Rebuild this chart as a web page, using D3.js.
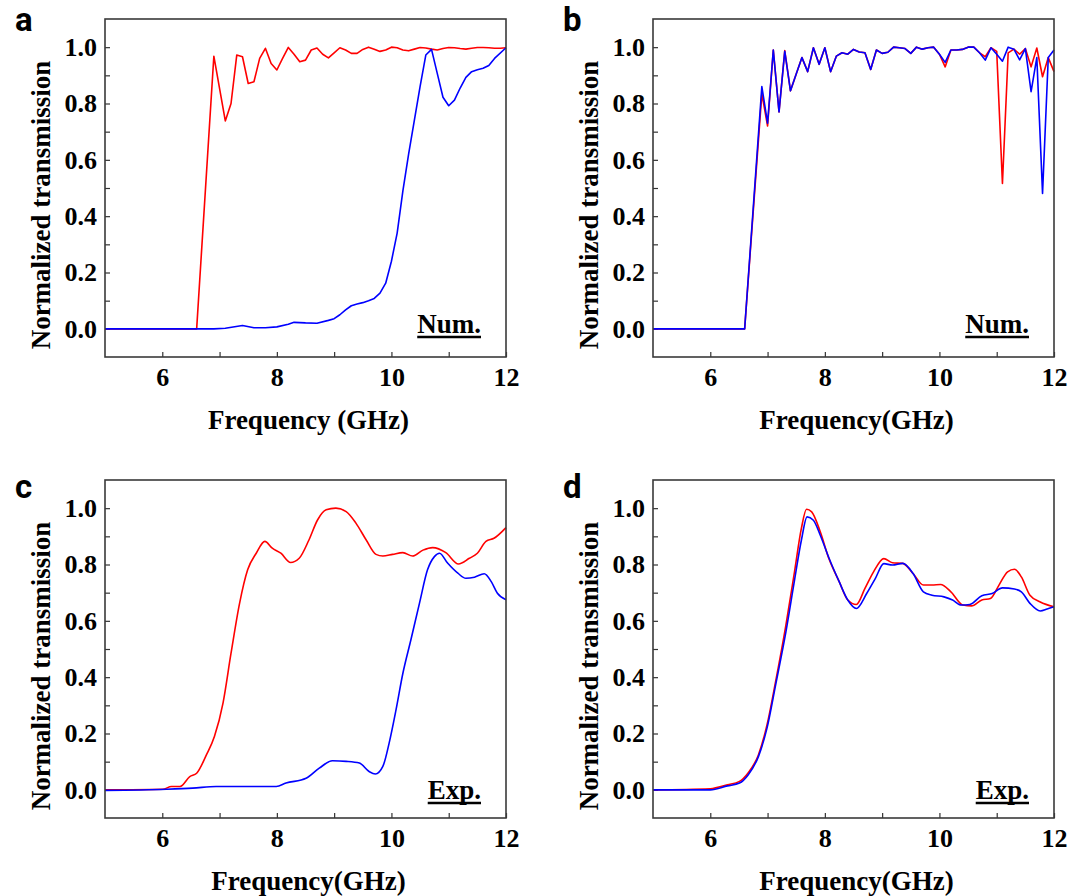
<!DOCTYPE html>
<html>
<head>
<meta charset="utf-8">
<script src="https://cdn.jsdelivr.net/npm/d3@7"></script>
<style>
  body { margin: 0; background: #fff; }
  svg { display: block; }
</style>
</head>
<body>
<svg id="fig" width="1084" height="896"></svg>
<script>
// ---- data ----
// panel a (numerical)
var aRedFreq  = [5.0, 6.6, 6.9, 7.1, 7.2, 7.3, 7.4, 7.5, 7.6, 7.7, 7.8, 7.9, 8.0, 8.1, 8.2, 8.3, 8.4, 8.5, 8.6, 8.7, 8.8, 8.9, 9.0, 9.1, 9.2, 9.3, 9.4, 9.5, 9.6, 9.7, 9.8, 9.9, 10.0, 10.1, 10.2, 10.3, 10.4, 10.5, 10.6, 10.7, 10.8, 10.9, 11.0, 11.1, 11.2, 11.3, 11.4, 11.5, 11.6, 11.7, 11.8, 11.9, 12.0];
var aRedTrans = [0, 0, 0.968, 0.738, 0.80, 0.972, 0.966, 0.871, 0.877, 0.96, 0.996, 0.942, 0.919, 0.96, 0.999, 0.975, 0.948, 0.954, 0.99, 0.997, 0.975, 0.962, 0.98, 0.998, 0.99, 0.978, 0.978, 0.992, 1.0, 0.993, 0.985, 0.99, 1.0, 0.998, 0.99, 0.987, 0.993, 0.999, 0.997, 0.993, 0.99, 0.995, 0.999, 0.998, 0.995, 0.993, 0.996, 0.999, 0.999, 0.998, 0.996, 0.996, 0.998];
var aBlueFreq  = [5.0, 6.9, 7.1, 7.4, 7.6, 7.8, 8.0, 8.2, 8.3, 8.5, 8.7, 8.9, 9.0, 9.1, 9.2, 9.3, 9.4, 9.5, 9.6, 9.7, 9.8, 9.9, 10.0, 10.1, 10.2, 10.3, 10.4, 10.5, 10.6, 10.7, 10.8, 10.9, 11.0, 11.1, 11.2, 11.3, 11.4, 11.5, 11.6, 11.7, 11.8, 12.0];
var aBlueTrans = [0, 0, 0.002, 0.012, 0.004, 0.004, 0.007, 0.016, 0.023, 0.021, 0.02, 0.03, 0.036, 0.05, 0.067, 0.082, 0.088, 0.093, 0.1, 0.108, 0.127, 0.162, 0.24, 0.34, 0.49, 0.62, 0.74, 0.86, 0.972, 0.992, 0.907, 0.822, 0.792, 0.812, 0.855, 0.893, 0.913, 0.92, 0.925, 0.935, 0.96, 0.998];

// panel b (numerical), both curves on one grid
var bFreq = [5.0, 6.6, 6.9, 7.0, 7.1, 7.2, 7.3, 7.4, 7.5, 7.6, 7.7, 7.8, 7.9, 8.0, 8.1, 8.2, 8.3, 8.4, 8.5, 8.6, 8.7, 8.8, 8.9, 9.0, 9.1, 9.2, 9.3, 9.4, 9.5, 9.6, 9.7, 9.8, 9.9, 10.0, 10.1, 10.2, 10.3, 10.4, 10.5, 10.6, 10.7, 10.8, 10.9, 11.0, 11.1, 11.2, 11.3, 11.4, 11.5, 11.6, 11.7, 11.8, 11.9, 12.0];
var bRedTrans  = [0, 0, 0.835, 0.72, 0.99, 0.77, 0.988, 0.845, 0.905, 0.963, 0.913, 0.998, 0.939, 0.998, 0.913, 0.968, 0.98, 0.975, 0.992, 0.983, 0.98, 0.921, 0.99, 0.978, 0.982, 1.0, 0.998, 0.995, 0.978, 1.0, 0.993, 0.998, 1.0, 0.975, 0.93, 0.99, 0.99, 0.992, 1.0, 1.0, 0.98, 0.966, 0.998, 0.985, 0.516, 0.98, 0.993, 0.975, 0.995, 0.93, 0.997, 0.895, 0.963, 0.913];
var bBlueTrans = [0, 0, 0.86, 0.73, 0.99, 0.77, 0.985, 0.845, 0.905, 0.963, 0.913, 0.998, 0.939, 0.998, 0.913, 0.968, 0.98, 0.975, 0.992, 0.983, 0.98, 0.921, 0.99, 0.978, 0.982, 1.0, 0.998, 0.995, 0.978, 1.0, 0.993, 0.998, 1.0, 0.975, 0.946, 0.99, 0.99, 0.992, 1.0, 1.0, 0.98, 0.954, 0.998, 0.975, 0.95, 1.0, 0.993, 0.955, 0.995, 0.842, 0.963, 0.481, 0.963, 0.99];

// panel c (experiment)
var cRedFreq  = [5.0, 6.01, 6.16, 6.31, 6.48, 6.6, 6.77, 6.91, 7.06, 7.2, 7.35, 7.49, 7.64, 7.79, 7.92, 8.07, 8.24, 8.39, 8.56, 8.71, 8.86, 9.03, 9.21, 9.38, 9.56, 9.73, 9.85, 10.02, 10.2, 10.37, 10.55, 10.72, 10.95, 11.17, 11.36, 11.5, 11.65, 11.79, 12.0];
var cRedTrans = [0, 0.002, 0.012, 0.012, 0.047, 0.059, 0.124, 0.189, 0.308, 0.485, 0.663, 0.781, 0.84, 0.882, 0.858, 0.84, 0.807, 0.822, 0.887, 0.958, 0.994, 1.0, 0.988, 0.947, 0.887, 0.836, 0.83, 0.836, 0.842, 0.83, 0.851, 0.86, 0.842, 0.802, 0.822, 0.84, 0.882, 0.893, 0.931];
var cBlueFreq  = [5.0, 6.07, 6.53, 6.94, 7.35, 7.7, 7.99, 8.16, 8.51, 8.74, 8.97, 9.21, 9.44, 9.61, 9.72, 9.85, 9.96, 10.08, 10.2, 10.34, 10.49, 10.63, 10.75, 10.84, 10.98, 11.16, 11.3, 11.45, 11.62, 11.74, 11.85, 12.0];
var cBlueTrans = [-0.002, 0.002, 0.006, 0.012, 0.012, 0.012, 0.012, 0.024, 0.041, 0.077, 0.103, 0.101, 0.095, 0.065, 0.056, 0.083, 0.166, 0.284, 0.414, 0.533, 0.663, 0.781, 0.828, 0.84, 0.805, 0.769, 0.751, 0.755, 0.767, 0.74, 0.698, 0.675];

// panel d (experiment)
var dRedFreq  = [5.0, 6.0, 6.3, 6.51, 6.66, 6.84, 6.99, 7.14, 7.32, 7.47, 7.59, 7.68, 7.77, 7.92, 8.07, 8.25, 8.4, 8.55, 8.7, 8.85, 9.03, 9.18, 9.36, 9.54, 9.72, 9.87, 10.02, 10.2, 10.41, 10.56, 10.74, 10.89, 11.04, 11.19, 11.31, 11.43, 11.58, 11.76, 12.0];
var dRedTrans = [0, 0.004, 0.018, 0.03, 0.06, 0.124, 0.23, 0.384, 0.585, 0.774, 0.928, 0.996, 0.987, 0.916, 0.821, 0.739, 0.674, 0.658, 0.715, 0.774, 0.821, 0.806, 0.804, 0.768, 0.727, 0.727, 0.729, 0.703, 0.656, 0.653, 0.674, 0.679, 0.727, 0.774, 0.783, 0.756, 0.691, 0.667, 0.65];
var dBlueFreq  = [5.0, 6.0, 6.3, 6.51, 6.66, 6.84, 6.99, 7.14, 7.32, 7.47, 7.59, 7.69, 7.8, 7.92, 8.07, 8.25, 8.4, 8.55, 8.73, 8.88, 9.03, 9.18, 9.36, 9.54, 9.72, 9.87, 10.08, 10.23, 10.38, 10.53, 10.74, 10.92, 11.1, 11.31, 11.43, 11.58, 11.76, 11.88, 12.0];
var dBlueTrans = [0, 0, 0.014, 0.024, 0.053, 0.118, 0.219, 0.372, 0.561, 0.744, 0.886, 0.969, 0.957, 0.904, 0.824, 0.739, 0.674, 0.644, 0.697, 0.75, 0.803, 0.798, 0.804, 0.768, 0.703, 0.691, 0.685, 0.674, 0.656, 0.658, 0.689, 0.697, 0.717, 0.713, 0.703, 0.662, 0.635, 0.642, 0.65];

// axis ticks
var xMajorTicks = [6, 8, 10, 12];
var xMinorTicks = [7, 9, 11];
var yMajorTicks = [0, 0.2, 0.4, 0.6, 0.8, 1.0];
var yMinorTicks = [0.1, 0.3, 0.5, 0.7, 0.9];

var panelLetters = ["a", "b", "c", "d"];
var xTitles = ["Frequency (GHz)", "Frequency(GHz)", "Frequency(GHz)", "Frequency(GHz)"];
var yTitle = "Normalized transmission";
var notes = ["Num.", "Num.", "Exp.", "Exp."];

function zip(f, t) { return f.map(function(d, i) { return {f: d, t: t[i]}; }); }

var panels = [
  {left: 105, top: 19,  red: zip(aRedFreq, aRedTrans), blue: zip(aBlueFreq, aBlueTrans), smooth: false},
  {left: 653, top: 19,  red: zip(bFreq, bRedTrans),    blue: zip(bFreq, bBlueTrans),    smooth: false},
  {left: 105, top: 480, red: zip(cRedFreq, cRedTrans), blue: zip(cBlueFreq, cBlueTrans), smooth: true},
  {left: 653, top: 480, red: zip(dRedFreq, dRedTrans), blue: zip(dBlueFreq, dBlueTrans), smooth: true}
];

var svg = d3.select("#fig"),
    width = 401,
    height = 338,
    serif = "'Liberation Serif', 'Times New Roman', serif";

var xScale = d3.scaleLinear().domain([5, 12]).range([0, width]);
var yScale = d3.scaleLinear().domain([-0.1, 1.1]).range([height, 0]);

panels.forEach(function(p, i) {
    var g = svg.append("g")
               .attr("transform", "translate(" + p.left + "," + p.top + ")");

    // panel letter
    svg.append("text")
       .attr("x", p.left - 90)
       .attr("y", p.top + (i < 2 ? 12 : 18))
       .attr("font-family", "Roboto, sans-serif")
       .attr("font-weight", 700)
       .attr("font-size", "33px")
       .text(panelLetters[i]);

    // minor ticks (inward, no labels)
    g.append("g")
     .attr("transform", "translate(0," + height + ")")
     .call(d3.axisBottom(xScale).tickValues(xMinorTicks).tickSize(-5).tickFormat(""));
    g.append("g")
     .call(d3.axisLeft(yScale).tickValues(yMinorTicks).tickSize(-5).tickFormat(""));

    // major ticks with labels
    g.append("g")
     .attr("transform", "translate(0," + height + ")")
     .call(d3.axisBottom(xScale).tickValues(xMajorTicks).tickSize(-5).tickPadding(11).tickFormat(d3.format("d")));
    g.append("g")
     .call(d3.axisLeft(yScale).tickValues(yMajorTicks).tickSize(-5).tickPadding(8).tickFormat(d3.format(".1f")));

    g.selectAll(".domain").remove();
    g.selectAll(".tick line").attr("stroke", "#333").attr("stroke-width", 1.2);
    g.selectAll(".tick text")
     .attr("fill", "#000")
     .attr("font-family", serif)
     .attr("font-weight", 700)
     .attr("font-size", "26px");

    // curves
    var line = d3.line()
                 .x(function(d) { return xScale(d.f); })
                 .y(function(d) { return yScale(d.t); })
                 .curve(p.smooth ? d3.curveMonotoneX : d3.curveLinear);

    g.append("path")
     .datum(p.red)
     .attr("fill", "none")
     .attr("stroke", "#ff0000")
     .attr("stroke-width", 1.6)
     .attr("stroke-linejoin", "round")
     .attr("d", line);

    g.append("path")
     .datum(p.blue)
     .attr("fill", "none")
     .attr("stroke", "#0000ff")
     .attr("stroke-width", 1.6)
     .attr("stroke-linejoin", "round")
     .attr("d", line);

    // frame
    g.append("rect")
     .attr("width", width)
     .attr("height", height)
     .attr("fill", "none")
     .attr("stroke", "#3a3a3a")
     .attr("stroke-width", 1.6);

    // Num. / Exp. note, underlined
    var noteY = height - (i < 2 ? 24 : 19);
    var note = g.append("text")
     .attr("x", width - 25)
     .attr("y", noteY)
     .attr("text-anchor", "end")
     .attr("font-family", serif)
     .attr("font-weight", 700)
     .attr("font-size", "27px")
     .text(notes[i]);
    var len = note.node().getComputedTextLength();
    g.append("line")
     .attr("x1", width - 25 - len)
     .attr("x2", width - 25)
     .attr("y1", noteY + 4)
     .attr("y2", noteY + 4)
     .attr("stroke", "#000")
     .attr("stroke-width", 2.5);

    // axis titles
    g.append("text")
     .attr("x", width / 2 + 3)
     .attr("y", height + 72)
     .attr("text-anchor", "middle")
     .attr("font-family", serif)
     .attr("font-weight", 700)
     .attr("font-size", "27px")
     .text(xTitles[i]);

    g.append("text")
     .attr("transform", "translate(-55," + (height / 2 + 17) + ") rotate(-90)")
     .attr("text-anchor", "middle")
     .attr("font-family", serif)
     .attr("font-weight", 700)
     .attr("font-size", "27px")
     .text(yTitle);
});
</script>
</body>
</html>
